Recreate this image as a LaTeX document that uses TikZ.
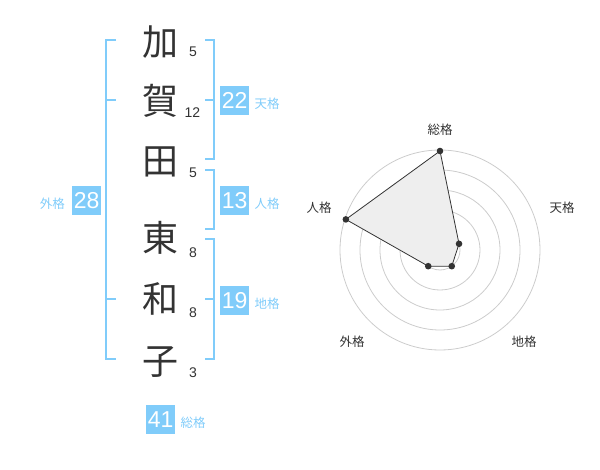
\documentclass[tikz,border=0pt]{standalone}
\usepackage{fontspec}
\setmainfont{Liberation Sans}
\newfontfamily\jpfont{Noto Sans CJK JP}
\usetikzlibrary{positioning}
\definecolor{kakublue}{HTML}{80CCFA}
\definecolor{ink}{HTML}{333333}
\definecolor{ring}{HTML}{CCCCCC}
\definecolor{area}{HTML}{EEEEEE}
\begin{document}
\begin{tikzpicture}[x=1pt,y=-1pt]
    \tikzset{kanji/.style={font=\jpfont\fontsize{36}{36}\selectfont,text=ink,inner sep=0pt},
        strokes/.style={font=\fontsize{14}{14}\selectfont,text=ink,inner sep=0pt},
        kaku box/.style={fill=kakublue,text=white,font=\fontsize{23}{23}\selectfont,minimum size=29pt,inner sep=0pt},
        kaku label/.style={font=\jpfont\fontsize{12.5}{12.5}\selectfont,text=kakublue,inner sep=0pt},
        bracket/.style={draw=kakublue,line width=2pt},
        radar label/.style={font=\jpfont\fontsize{12.5}{12.5}\selectfont,text=ink,inner sep=0pt}}

    \useasboundingbox (0,0) rectangle (600,470);

    % name and stroke counts
    \node[kanji] (k1) at (160,42) {加};   \node[strokes] (s1) at (193,52) {5};
    \node[kanji] (k2) at (160,101) {賀};  \node[strokes] (s2) at (192.5,112.7) {12};
    \node[kanji] (k3) at (160,162) {田};  \node[strokes] (s3) at (193,173) {5};
    \node[kanji] (k4) at (160,238) {東};  \node[strokes] (s4) at (193,253) {8};
    \node[kanji] (k5) at (160,299) {和};  \node[strokes] (s5) at (193,313) {8};
    \node[kanji] (k6) at (160,362) {子};  \node[strokes] (s6) at (193,373) {3};

    % brackets
    \draw[bracket] (116,40) -- (106,40) -- (106,359) -- (116,359);
    \draw[bracket] (106,100) -- (116,100);
    \draw[bracket] (106,299) -- (116,299);
    \draw[bracket] (205,40) -- (214,40) -- (214,159) -- (205,159);
    \draw[bracket] (205,100) -- (214,100);
    \draw[bracket] (205,170) -- (214,170) -- (214,229) -- (205,229);
    \draw[bracket] (205,239) -- (214,239) -- (214,359) -- (205,359);
    \draw[bracket] (205,299) -- (214,299);

    % kaku values
    \node[kaku box] (ten) at (234.7,100.5) {22};
    \node[kaku label,right=5pt of ten,yshift=-3pt] (tenl) {天格};
    \node[kaku box] (jin) at (234.7,200.5) {13};
    \node[kaku label,right=5pt of jin,yshift=-3pt] (jinl) {人格};
    \node[kaku box] (chi) at (234.7,300.5) {19};
    \node[kaku label,right=5pt of chi,yshift=-3pt] (chil) {地格};
    \node[kaku box] (gai) at (86.7,200.5) {28};
    \node[kaku label,left=7pt of gai,yshift=-3pt] (gail) {外格};
    \node[kaku box] (sou) at (160.7,419.5) {41};
    \node[kaku label,right=5pt of sou,yshift=-3pt] (soul) {総格};

    % radar chart
    \begin{scope}[shift={(440,250)},y=1pt]
        \foreach \r in {20,40,...,100}
            \draw[ring,line width=0.8pt] (0,0) circle (\r);
        \fill[ring] (0,0) circle (3);
        \coordinate (psou) at (90:99);
        \coordinate (pten) at (18:20);
        \coordinate (pchi) at (-54:20);
        \coordinate (pgai) at (-126:20);
        \coordinate (pjin) at (162:99);
        \draw[ink,fill=area,line width=0.8pt] (psou) -- (pten) -- (pchi) -- (pgai) -- (pjin) -- cycle;
        \foreach \p in {psou,pten,pchi,pgai,pjin}
            \fill[ink] (\p) circle (3.3);
        \node[radar label] (rsou) at (0,120) {総格};
        \node[radar label] (rten) at (122,42) {天格};
        \node[radar label] (rchi) at (84,-92) {地格};
        \node[radar label] (rgai) at (-88,-92) {外格};
        \node[radar label] (rjin) at (-121,42) {人格};
    \end{scope}
\end{tikzpicture}
\end{document}
